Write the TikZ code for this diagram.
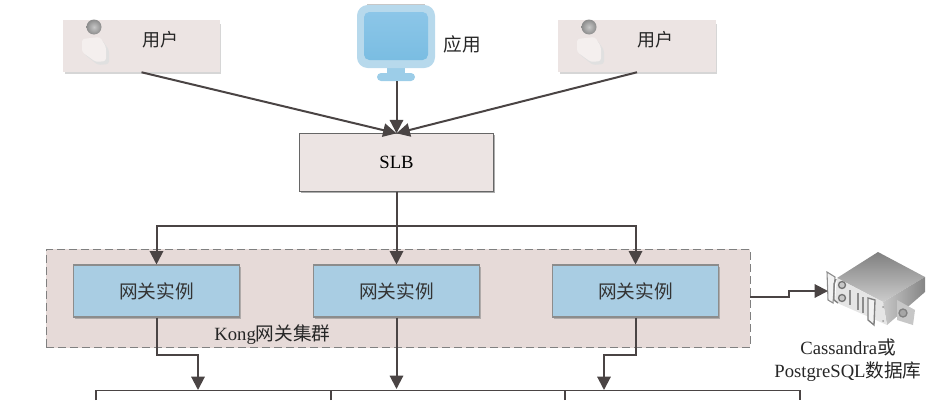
\documentclass[tikz,border=0pt]{standalone}
\usepackage{fontspec}
\setmainfont{Liberation Serif}
\newfontfamily\cjk{Noto Sans CJK SC}
\usetikzlibrary{arrows.meta,calc,shadows}
\definecolor{ink}{HTML}{4A4444}
\definecolor{pinkbox}{HTML}{ECE4E3}
\definecolor{clusterbg}{HTML}{E6DAD8}
\definecolor{gwblue}{HTML}{A9CDE3}
\definecolor{monframe}{HTML}{B7D9EC}
\definecolor{montop}{HTML}{8CC6E8}
\definecolor{monbot}{HTML}{7ABDE2}
\definecolor{monneck}{HTML}{9CCDE8}
\tikzset{
 conn/.style={draw=ink,line width=1.5pt,-{Triangle[length=10pt,width=10pt]}},
 lbl/.style={text=black!85,font=\fontsize{14}{16}\selectfont},
 cjklbl/.style={text=black!85,font=\cjk\fontsize{13.5}{16}\selectfont},
 userbox/.style={fill=pinkbox,minimum width=118pt,minimum height=39pt,inner sep=0pt,draw=none},
 slbbox/.style={fill=pinkbox,draw=black!60,line width=.8pt,minimum width=145pt,minimum height=43pt,inner sep=0pt,
   drop shadow={shadow xshift=1.2pt,shadow yshift=-1.2pt,fill=black!45,opacity=.7}},
 gwbox/.style={fill=gwblue,draw=black!45,line width=.8pt,minimum width=125pt,minimum height=39pt,inner sep=0pt,
   drop shadow={shadow xshift=1.2pt,shadow yshift=-1.2pt,fill=black!45,opacity=.6}},
 clusterbox/.style={fill=clusterbg,draw=black!50,line width=.7pt,dash pattern=on 6pt off 3pt,minimum width=528pt,minimum height=74pt,inner sep=0pt},
}
\begin{document}
\begin{tikzpicture}[x=.75pt,y=-.75pt]
\useasboundingbox (0,0) rectangle (934,400);
\clip (0,0) rectangle (934,400);
% cluster and user boxes
\node[clusterbox] (cluster) at (398,298.5) {};
\fill[black!16] (65,24) rectangle (221,74);
\fill[black!16] (560,24) rectangle (717,74);
\node[userbox] (u1) at (141.5,46) {};
\node[userbox] (u2) at (637,46) {};
\node[cjklbl] (u1t) at (160.5,40) {用户};
\node[cjklbl] (u2t) at (655.5,40) {用户};
\foreach \dx in {0,495}{
  \begin{scope}[xshift=\dx*.75pt]
  \fill[rounded corners=2pt,black!12] (84,42) -- (84,54) -- (98,65) -- (109,64) -- (109,50) -- (102,40) -- cycle;
  \fill[rounded corners=2pt,white!40!pinkbox] (82,39) -- (82,52) -- (96,62) -- (106,61) -- (106,47) -- (100,37) -- cycle;
  \shade[inner color=black!22,outer color=black!45] (94,27) circle (7.5);
  \end{scope}
}
% monitor
\fill[black!22] (367,3.5) rectangle (425,5);
\fill[monneck] (387,66) rectangle (405,76);
\fill[rounded corners=3pt,monneck] (377,73) rectangle (415,81);
\fill[rounded corners=8pt,monframe] (357,5) rectangle (435,68);
\shade[rounded corners=4pt,top color=montop,bottom color=monbot] (364,12) rectangle (428,60);
\coordinate (mon) at (396.5,81);
\node[lbl,font=\cjk\fontsize{14}{16}\selectfont] (appt) at (462,44) {应用};
\node[slbbox] (slb) at (396.5,162.5) {\fontsize{14}{16}\selectfont SLB};
\node[gwbox,text=black!80] (gw1) at (156.5,291) {\cjk\fontsize{14}{16}\selectfont 网关实例};
\node[gwbox,text=black!80] (gw2) at (396.5,291) {\cjk\fontsize{14}{16}\selectfont 网关实例};
\node[gwbox,text=black!80] (gw3) at (635.5,291) {\cjk\fontsize{14}{16}\selectfont 网关实例};
\node[lbl] (kong) at (272.5,335) {Kong{\cjk 网关集群}};
% server
\shade[shading angle=150,top color=black!50,bottom color=black!20] (837,278) -- (878,252) -- (925,277) -- (883,302) -- cycle;
\shade[left color=black!22,right color=black!48] (883,302) -- (925,277) -- (925,292) -- (887,325) -- cycle;
\fill[black!10] (837,278) -- (883,302) -- (887,325) -- (835,302) -- cycle;
\fill[black!5] (827,272) -- (835,277) -- (833,303) -- (828,300) -- cycle;
\draw[black!45,line width=.8pt] (827,272) -- (835,277) -- (833,303) -- (828,300) -- cycle;
\draw[black!50,line width=1pt] (836,279) -- (834,284) -- (834,300) -- (838,303);
\draw[black!50,line width=1pt,fill=black!5] (868,298) -- (875,300) -- (874,325) -- (868,320) -- cycle;
\fill[black!22] (897,300) -- (915,310) -- (913,325) -- (897,320) -- cycle;
\draw[black!50,fill=black!35,line width=1pt] (903,313) circle (4);
\draw[black!55,fill=black!22,line width=1pt] (842,285) circle (3.5);
\draw[black!55,fill=black!22,line width=1pt] (842,298) circle (3.5);
\draw[black!45,line width=2pt] (850,290) -- (850,305) (858,293) -- (858,310) (863,297) -- (863,313);
\fill[black!40] (883,307) circle (1) (883,321) circle (1);
\coordinate (db) at (828,291);
\node[lbl,align=center,font=\fontsize{14}{17.25}\selectfont] (dbt) at (848,360.5) {Cassandra{\cjk 或}\\PostgreSQL{\cjk 数据库}};
% bottom boxes
\coordinate (b0) at (96,400); \coordinate (b1) at (331,400); \coordinate (b2) at (565,400); \coordinate (b3) at (800,400);
\draw[ink,line width=1.1pt] (b0) -- (96,390.5) -- (800,390.5) -- (b3);
\draw[ink,line width=1.1pt] (b1) -- (331,390.5);
\draw[ink,line width=1.1pt] (b2) -- (565,390.5);
\coordinate (t1) at (198,390); \coordinate (t2) at (396.5,389); \coordinate (t3) at (604,390);
% connectors
\draw[conn] (u1.south) -- (slb.north);
\draw[conn] (mon) -- (slb.north);
\draw[conn] (u2.south) -- (slb.north);
\draw[conn] (slb.south) -- (gw2.north);
\draw[conn] (slb.south) -- (396.5,226) -| (gw1.north);
\draw[conn] (slb.south) -- (396.5,226) -| (gw3.north);
\draw[conn] (cluster.east |- 0,297) -- (789,297) -- (789,291) -- (db);
\draw[conn] (gw1.south) -- (156.5,355) -- (198,355) -- (t1);
\draw[conn] (gw2.south) -- (t2);
\draw[conn] (gw3.south) -- (635.5,355) -- (604,355) -- (t3);
\end{tikzpicture}
\end{document}
